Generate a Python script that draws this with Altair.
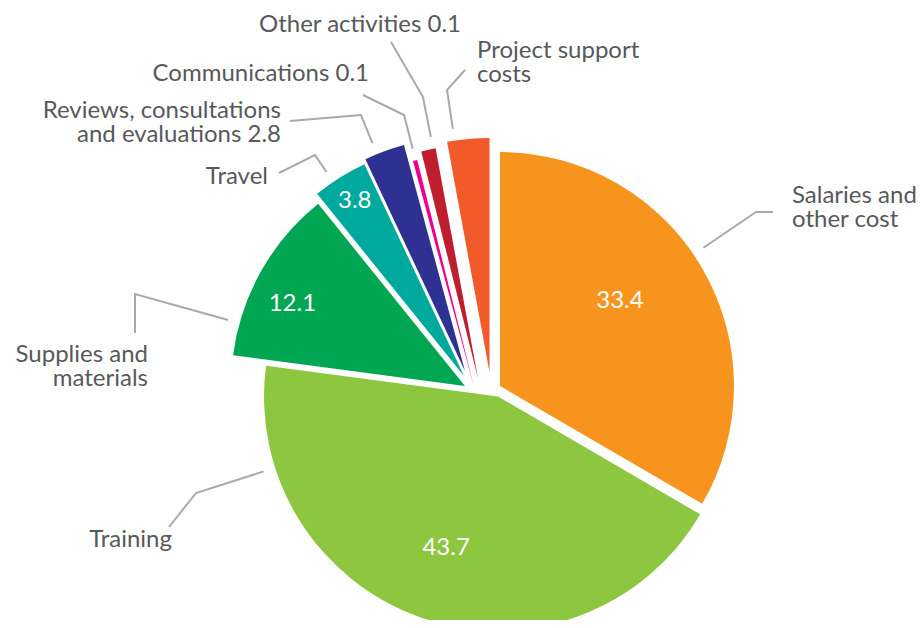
import math
import altair as alt
import pandas as pd

# ---------------- data ----------------
categories = [
    "Salaries and other cost",
    "Training",
    "Supplies and materials",
    "Travel",
    "Reviews, consultations and evaluations",
    "Communications",
    "Other activities",
    "Project support costs",
]
values = [33.4, 43.7, 12.1, 3.8, 2.8, 0.3, 1.0, 2.9]
inside_labels = ["33.4", "43.7", "12.1", "3.8", "", "", "", ""]
outside_labels = [
    ["Salaries and", "other cost"],
    ["Training"],
    ["Supplies and", "materials"],
    ["Travel"],
    ["Reviews, consultations", "and evaluations 2.8"],
    ["Communications 0.1"],
    ["Other activities 0.1"],
    ["Project support", "costs"],
]
colors = ["#F7941D", "#8DC63F", "#00A651", "#00A99D", "#2E3192", "#EC008C", "#BE1E2D", "#F15A29"]

# ---------------- layout / style (page pixels) ----------------
MARGIN = 8
CENTER = (480, 385)
RADIUS = 234
EXPLODE = [(20, 1), (18, 11.5), (-15, 1), (-16, -9), (-15, -14), (-6, 2), (-2, -6.5), (9.5, -13)]
INSIDE_R = [147, 160, 191, 206, 0, 0, 0, 0]
INSIDE_ROT = [-5.4, 0, -4, 0, 0, 0, 0, 0]
LEADER_GAP = 12
ELBOW = [(756, 212), (196, 493), (135, 294), (315, 155), (361, 115), (404, 115), (423, 97), (447, 90)]
LEADER_END = [(773, 212), (169, 527), (135, 333), (279, 173), (290, 121), (363, 95), (391, 42), (465, 70)]
LABEL_POS = [(792, 203), (172, 547), (148, 362), (268, 184), (281, 118), (369, 81), (461, 32), (477, 58)]
LABEL_ALIGN = ["left", "right", "right", "right", "right", "right", "right", "left"]
FONT = "Lato"
FONT_SIZE = 24
LINE_HEIGHT = 24
TEXT_COLOR = "#58595B"
LINE_COLOR = "#A7A9AC"

# ---------------- derived tables ----------------
total = sum(values)
arcs, inner, leaders, outer = [], [], [], []
acc = 0.0
for i, (cat, v) in enumerate(zip(categories, values)):
    t0 = 2 * math.pi * acc / total
    acc += v
    t1 = 2 * math.pi * acc / total
    mid = (t0 + t1) / 2
    cx = CENTER[0] + EXPLODE[i][0] - MARGIN
    cy = CENTER[1] + EXPLODE[i][1] - MARGIN
    arcs.append({"cat": cat, "t0": t0, "t1": t1, "cx": cx, "cy": cy})
    if inside_labels[i]:
        a = mid + math.radians(INSIDE_ROT[i])
        inner.append({"cat": cat, "label": inside_labels[i],
                      "x": cx + INSIDE_R[i] * math.sin(a),
                      "y": cy - INSIDE_R[i] * math.cos(a)})
    ex, ey = ELBOW[i][0] - MARGIN, ELBOW[i][1] - MARGIN
    phi = math.atan2(ex - cx, -(ey - cy)) % (2 * math.pi)
    r = RADIUS + LEADER_GAP
    pts = [(cx + r * math.sin(phi), cy - r * math.cos(phi)), (ex, ey),
           (LEADER_END[i][0] - MARGIN, LEADER_END[i][1] - MARGIN)]
    for k, (px, py) in enumerate(pts):
        leaders.append({"cat": cat, "o": k, "x": px, "y": py})
    # one text row per label line
    for j, line in enumerate(outside_labels[i]):
        outer.append({"cat": cat, "text": line, "align": LABEL_ALIGN[i],
                      "x": LABEL_POS[i][0] - MARGIN,
                      "y": LABEL_POS[i][1] - MARGIN + j * LINE_HEIGHT})

arc_df = pd.DataFrame(arcs)
inner_df = pd.DataFrame(inner)
lead_df = pd.DataFrame(leaders)
outer_df = pd.DataFrame(outer)

X = lambda f: alt.X(f, type="quantitative", scale=None, axis=None)
Y = lambda f: alt.Y(f, type="quantitative", scale=None, axis=None)

pie = alt.Chart(arc_df).mark_arc(radius=RADIUS).encode(
    x=X("cx"), y=Y("cy"),
    theta=alt.Theta("t0:Q", scale=None),
    theta2=alt.Theta2("t1"),
    color=alt.Color("cat:N", scale=alt.Scale(domain=categories, range=colors), legend=None),
)

inner_text = alt.Chart(inner_df).mark_text(
    font=FONT, fontSize=FONT_SIZE, color="white", align="center", baseline="middle"
).encode(x=X("x"), y=Y("y"), text="label:N")

lines = alt.Chart(lead_df).mark_line(color=LINE_COLOR, strokeWidth=2).encode(
    x=X("x"), y=Y("y"), detail="cat:N", order="o:Q"
)

left_text = alt.Chart(outer_df).transform_filter(alt.datum.align == "left").mark_text(
    font=FONT, fontSize=FONT_SIZE, color=TEXT_COLOR, align="left", baseline="alphabetic"
).encode(x=X("x"), y=Y("y"), text="text:N")

right_text = alt.Chart(outer_df).transform_filter(alt.datum.align == "right").mark_text(
    font=FONT, fontSize=FONT_SIZE, color=TEXT_COLOR, align="right", baseline="alphabetic"
).encode(x=X("x"), y=Y("y"), text="text:N")

chart = alt.layer(pie, inner_text, lines, left_text, right_text).properties(
    width=908, height=612, autosize=alt.AutoSizeParams(type="none"), padding=0
).configure_view(stroke=None)

chart.save("out.html", embed_options={"renderer": "svg", "actions": False})
